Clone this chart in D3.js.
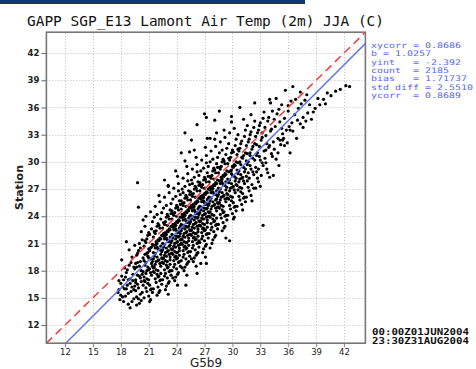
<!DOCTYPE html>
<html><head><meta charset="utf-8">
<script src="https://cdn.jsdelivr.net/npm/d3@7"></script>
<style>html,body{margin:0;padding:0;background:#fff;}svg{display:block;}</style>
</head><body>
<svg id="c" width="476" height="369"></svg>
<script>
const title = "GAPP SGP_E13 Lamont Air Temp (2m) JJA (C)";
const xLabel = "G5b9";
const yLabel = "Station";
const domainMin = 10, domainMax = 44.3;
const xTicks = [12,15,18,21,24,27,30,33,36,39,42];
const yTicks = [12,15,18,21,24,27,30,33,36,39,42];
const fitSlope = 1.0257, fitIntercept = -2.392;
const statsLines = ["xycorr = 0.8686","b = 1.0257","yint   = -2.392","count  = 2185","bias   = 1.71737","std diff = 2.5510","ycorr  = 0.8689"];
const dateLines = ["00:00Z01JUN2004","23:30Z31AUG2004"];
// [G5b9, Station] pairs (approximate)
const pairs = [
[17.7,15.6],[17.8,16.9],[17.9,14.8],[18.0,15.3],[18.1,17.4],[18.2,16.2],[18.3,14.6],[18.4,18.3],[17.8,15.9],[18.0,16.6],[18.2,15.1],[18.3,17.0],[18.4,16.0],[18.1,19.2],
[18.5,15.2],[18.6,17.8],[18.7,16.4],[18.8,14.3],[18.9,18.6],[19.0,17.1],[19.1,15.7],[19.2,19.5],[19.3,16.9],[19.4,14.9],[18.5,17.3],[18.6,16.0],[18.7,18.1],[18.8,15.5],[18.9,20.3],[19.0,16.6],[19.1,18.9],[19.2,14.6],[19.3,17.6],[19.4,15.9],[18.6,21.2],[18.8,17.0],[19.0,13.9],[19.2,16.2],[19.4,18.4],
[19.5,16.3],[19.6,18.8],[19.7,15.1],[19.8,17.5],[19.9,20.2],[20.0,14.4],[20.1,19.0],[20.2,16.8],[20.3,21.4],[20.4,17.9],[19.5,18.2],[19.6,15.8],[19.7,19.7],[19.8,16.5],[19.9,14.9],[20.0,18.5],[20.1,17.2],[20.2,22.3],[20.3,15.6],[20.4,19.4],[19.5,20.8],[19.6,17.0],[19.7,14.2],[19.8,18.9],[19.9,16.1],[20.0,21.0],[20.1,15.4],[20.2,18.0],[20.3,17.6],[20.4,23.6],[19.6,16.7],[19.8,19.9],[20.0,17.4],[20.2,14.7],[20.4,16.4],[19.7,18.4],[20.1,20.5],[19.9,25.0],
[20.5,17.3],[20.6,19.8],[20.7,16.1],[20.8,21.5],[20.9,18.4],[21.0,15.2],[21.1,20.2],[21.2,17.8],[21.3,22.6],[21.4,19.0],[20.5,20.7],[20.6,16.8],[20.7,18.9],[20.8,15.7],[20.9,21.9],[21.0,18.1],[21.1,16.4],[21.2,20.5],[21.3,17.5],[21.4,23.4],[20.5,15.0],[20.6,18.6],[20.7,21.1],[20.8,17.1],[20.9,19.6],[21.0,22.2],[21.1,14.6],[21.2,19.3],[21.3,16.0],[21.4,20.9],[20.5,19.1],[20.6,22.9],[20.7,17.7],[20.8,19.9],[20.9,16.6],[21.0,20.4],[21.1,18.2],[21.2,24.5],[21.3,18.8],[21.4,15.6],[20.6,21.3],[20.8,18.0],[21.0,17.0],[21.2,15.9],[21.4,18.5],[20.7,24.0],[20.9,20.0],[21.1,22.0],[21.3,20.6],[20.5,16.9],[21.0,19.4],[21.2,14.8],
[21.5,18.3],[21.6,20.8],[21.7,17.1],[21.8,22.4],[21.9,19.5],[22.0,16.2],[22.1,21.3],[22.2,18.8],[22.3,23.7],[22.4,20.1],[21.5,21.7],[21.6,17.8],[21.7,19.9],[21.8,16.7],[21.9,22.9],[22.0,19.1],[22.1,17.4],[22.2,21.6],[22.3,18.5],[22.4,24.4],[21.5,16.0],[21.6,19.6],[21.7,22.1],[21.8,18.1],[21.9,20.6],[22.0,23.2],[22.1,15.6],[22.2,20.3],[22.3,17.0],[22.4,21.9],[21.5,20.0],[21.6,23.9],[21.7,18.7],[21.8,20.9],[21.9,17.6],[22.0,21.4],[22.1,19.2],[22.2,25.6],[22.3,19.8],[22.4,16.5],[21.6,22.3],[21.8,19.0],[22.0,18.0],[22.2,16.9],[22.4,19.4],[21.7,25.1],[21.9,21.0],[22.1,23.0],[22.3,21.5],[21.5,17.9],[22.0,20.4],[22.2,15.8],[21.6,18.4],[21.8,21.2],[22.0,17.3],[22.2,22.7],[22.4,18.9],[21.7,20.5],[21.9,15.3],[22.1,26.3],[22.3,20.7],[21.5,19.3],[21.9,24.2],[22.3,17.7],
[22.5,19.3],[22.6,21.8],[22.7,18.1],[22.8,23.4],[22.9,20.5],[23.0,17.2],[23.1,22.3],[23.2,19.8],[23.3,24.7],[23.4,21.1],[22.5,22.7],[22.6,18.8],[22.7,20.9],[22.8,17.7],[22.9,23.9],[23.0,20.1],[23.1,18.4],[23.2,22.6],[23.3,19.5],[23.4,25.4],[22.5,17.0],[22.6,20.6],[22.7,23.1],[22.8,19.1],[22.9,21.6],[23.0,24.2],[23.1,16.6],[23.2,21.3],[23.3,18.0],[23.4,22.9],[22.5,21.0],[22.6,24.9],[22.7,19.7],[22.8,21.9],[22.9,18.6],[23.0,22.4],[23.1,20.2],[23.2,26.6],[23.3,20.8],[23.4,17.5],[22.6,23.3],[22.8,20.0],[23.0,19.0],[23.2,17.9],[23.4,20.4],[22.7,26.1],[22.9,22.0],[23.1,24.0],[23.3,22.5],[22.5,18.9],[23.0,21.4],[23.2,16.8],[22.6,19.4],[22.8,22.2],[23.0,18.3],[23.2,23.7],[23.4,19.9],[22.7,21.5],[22.9,16.3],[23.1,27.3],[23.3,21.7],[22.5,20.3],[22.9,25.2],[23.3,18.7],[22.6,22.1],[22.8,15.9],[23.0,23.0],[23.2,20.7],[23.4,24.3],[22.7,17.4],[23.1,21.2],[23.3,19.2],[22.9,19.6],[23.1,15.4],
[23.5,20.3],[23.6,22.8],[23.7,19.1],[23.8,24.4],[23.9,21.5],[24.0,18.2],[24.1,23.3],[24.2,20.8],[24.3,25.7],[24.4,22.1],[23.5,23.7],[23.6,19.8],[23.7,21.9],[23.8,18.7],[23.9,24.9],[24.0,21.1],[24.1,19.4],[24.2,23.6],[24.3,20.5],[24.4,26.4],[23.5,18.0],[23.6,21.6],[23.7,24.1],[23.8,20.1],[23.9,22.6],[24.0,25.2],[24.1,17.6],[24.2,22.3],[24.3,19.0],[24.4,23.9],[23.5,22.0],[23.6,25.9],[23.7,20.7],[23.8,22.9],[23.9,19.6],[24.0,23.4],[24.1,21.2],[24.2,27.6],[24.3,21.8],[24.4,18.5],[23.6,24.3],[23.8,21.0],[24.0,20.0],[24.2,18.9],[24.4,21.4],[23.7,27.1],[23.9,23.0],[24.1,25.0],[24.3,23.5],[23.5,19.9],[24.0,22.4],[24.2,17.8],[23.6,20.4],[23.8,23.2],[24.0,19.3],[24.2,24.7],[24.4,20.9],[23.7,22.5],[23.9,17.3],[24.1,28.4],[24.3,22.7],[23.5,21.3],[23.9,26.2],[24.3,19.7],[23.6,23.1],[23.8,16.9],[24.0,24.0],[24.2,21.7],[24.4,25.3],[23.7,18.4],[24.1,22.2],[24.3,20.2],[23.9,20.6],[24.1,16.4],[23.5,24.6],[23.8,19.5],[24.0,21.8],[24.2,26.8],[24.4,22.9],[23.6,17.2],[24.1,20.0],[23.9,29.0],
[24.5,21.4],[24.6,23.9],[24.7,20.2],[24.8,25.5],[24.9,22.6],[25.0,19.3],[25.1,24.4],[25.2,21.9],[25.3,26.8],[25.4,23.2],[24.5,24.8],[24.6,20.9],[24.7,23.0],[24.8,19.8],[24.9,26.0],[25.0,22.2],[25.1,20.5],[25.2,24.7],[25.3,21.6],[25.4,27.5],[24.5,19.1],[24.6,22.7],[24.7,25.2],[24.8,21.2],[24.9,23.7],[25.0,26.3],[25.1,18.7],[25.2,23.4],[25.3,20.1],[25.4,25.0],[24.5,23.1],[24.6,27.0],[24.7,21.8],[24.8,24.0],[24.9,20.7],[25.0,24.5],[25.1,22.3],[25.2,28.7],[25.3,22.9],[25.4,19.6],[24.6,25.4],[24.8,22.1],[25.0,21.1],[25.2,20.0],[25.4,22.5],[24.7,28.2],[24.9,24.1],[25.1,26.1],[25.3,24.6],[24.5,21.0],[25.0,23.5],[25.2,18.9],[24.6,21.5],[24.8,24.3],[25.0,20.4],[25.2,25.8],[25.4,22.0],[24.7,23.6],[24.9,18.4],[25.1,29.5],[25.3,23.8],[24.5,22.4],[24.9,27.3],[25.3,20.8],[24.6,24.2],[24.8,18.0],[25.0,25.1],[25.2,22.8],[25.4,26.4],[24.7,19.5],[25.1,23.3],[25.3,21.3],[24.9,21.7],[25.1,17.5],[24.5,25.7],[24.8,20.6],[25.0,22.9],[25.2,27.9],[25.4,24.0],[24.6,18.3],[25.1,21.1],[24.9,30.1],[25.3,19.0],[24.7,26.6],[25.0,16.4],[25.4,24.9],
[25.5,22.4],[25.6,24.9],[25.7,21.2],[25.8,26.5],[25.9,23.6],[26.0,20.3],[26.1,25.4],[26.2,22.9],[26.3,27.8],[26.4,24.2],[25.5,25.8],[25.6,21.9],[25.7,24.0],[25.8,20.8],[25.9,27.0],[26.0,23.2],[26.1,21.5],[26.2,25.7],[26.3,22.6],[26.4,28.5],[25.5,20.1],[25.6,23.7],[25.7,26.2],[25.8,22.2],[25.9,24.7],[26.0,27.3],[26.1,19.7],[26.2,24.4],[26.3,21.1],[26.4,26.0],[25.5,24.1],[25.6,28.0],[25.7,22.8],[25.8,25.0],[25.9,21.7],[26.0,25.5],[26.1,23.3],[26.2,29.7],[26.3,23.9],[26.4,20.6],[25.6,26.4],[25.8,23.1],[26.0,22.1],[26.2,21.0],[26.4,23.5],[25.7,29.2],[25.9,25.1],[26.1,27.1],[26.3,25.6],[25.5,22.0],[26.0,24.5],[26.2,19.9],[25.6,22.5],[25.8,25.3],[26.0,21.4],[26.2,26.8],[26.4,23.0],[25.7,24.6],[25.9,19.4],[26.1,30.5],[26.3,24.8],[25.5,23.4],[25.9,28.3],[26.3,21.8],[25.6,25.2],[25.8,19.0],[26.0,26.1],[26.2,23.8],[26.4,27.4],[25.7,20.5],[26.1,24.3],[26.3,22.3],[25.9,22.7],[26.1,18.5],[25.5,26.7],[25.8,21.6],[26.0,23.9],[26.2,28.9],[26.4,25.0],[25.6,19.3],[26.1,22.1],[25.9,31.3],[26.3,20.0],[25.7,27.6],[26.2,17.7],[26.4,21.3],
[26.5,23.4],[26.6,25.9],[26.7,22.2],[26.8,27.5],[26.9,24.6],[27.0,21.3],[27.1,26.4],[27.2,23.9],[27.3,28.8],[27.4,25.2],[26.5,26.8],[26.6,22.9],[26.7,25.0],[26.8,21.8],[26.9,28.0],[27.0,24.2],[27.1,22.5],[27.2,26.7],[27.3,23.6],[27.4,29.5],[26.5,21.1],[26.6,24.7],[26.7,27.2],[26.8,23.2],[26.9,25.7],[27.0,28.3],[27.1,20.7],[27.2,25.4],[27.3,22.1],[27.4,27.0],[26.5,25.1],[26.6,29.0],[26.7,23.8],[26.8,26.0],[26.9,22.7],[27.0,26.5],[27.1,24.3],[27.2,30.7],[27.3,24.9],[27.4,21.6],[26.6,27.4],[26.8,24.1],[27.0,23.1],[27.2,22.0],[27.4,24.5],[26.7,30.2],[26.9,26.1],[27.1,28.1],[27.3,26.6],[26.5,23.0],[27.0,25.5],[27.2,20.9],[26.6,23.5],[26.8,26.3],[27.0,22.4],[27.2,27.8],[27.4,24.0],[26.7,25.6],[26.9,20.4],[27.1,31.6],[27.3,25.8],[26.5,24.4],[26.9,29.3],[27.3,22.8],[26.6,26.2],[26.8,20.0],[27.0,27.1],[27.2,24.8],[27.4,28.4],[26.7,21.5],[27.1,25.3],[27.3,23.3],[26.9,23.7],[27.1,19.5],[26.5,27.7],[26.8,22.6],[27.0,24.9],[27.2,29.9],[27.4,26.0],[26.6,18.8],[27.2,18.8],[27.3,32.6],
[27.5,24.4],[27.6,26.9],[27.7,23.2],[27.8,28.5],[27.9,25.6],[28.0,22.3],[28.1,27.4],[28.2,24.9],[28.3,29.8],[28.4,26.2],[27.5,27.8],[27.6,23.9],[27.7,26.0],[27.8,22.8],[27.9,29.0],[28.0,25.2],[28.1,23.5],[28.2,27.7],[28.3,24.6],[28.4,30.5],[27.5,22.1],[27.6,25.7],[27.7,28.2],[27.8,24.2],[27.9,26.7],[28.0,29.3],[28.1,21.7],[28.2,26.4],[28.3,23.1],[28.4,28.0],[27.5,26.1],[27.6,30.0],[27.7,24.8],[27.8,27.0],[27.9,23.7],[28.0,27.5],[28.1,25.3],[28.2,31.7],[28.3,25.9],[28.4,22.6],[27.6,28.4],[27.8,25.1],[28.0,24.1],[28.2,23.0],[28.4,25.5],[27.7,31.2],[27.9,27.1],[28.1,29.1],[28.3,27.6],[27.5,24.0],[28.0,26.5],[28.2,21.9],[27.6,24.5],[27.8,27.3],[28.0,23.4],[28.2,28.8],[28.4,25.0],[27.7,26.6],[27.9,21.4],[28.1,32.5],[28.3,26.8],[27.5,25.4],[27.9,30.3],[28.3,23.8],[27.6,27.2],[27.8,21.0],[28.0,28.1],[28.2,25.8],[28.4,29.4],[27.7,22.5],[27.6,20.5],[28.1,34.6],[27.2,34.9],[28.3,33.2],
[28.5,25.4],[28.6,27.9],[28.7,24.2],[28.8,29.5],[28.9,26.6],[29.0,23.3],[29.1,28.4],[29.2,25.9],[29.3,30.8],[29.4,27.2],[28.5,28.8],[28.6,24.9],[28.7,27.0],[28.8,23.8],[28.9,30.0],[29.0,26.2],[29.1,24.5],[29.2,28.7],[29.3,25.6],[29.4,31.5],[28.5,23.1],[28.6,26.7],[28.7,29.2],[28.8,25.2],[28.9,27.7],[29.0,30.3],[29.1,22.7],[29.2,27.4],[29.3,24.1],[29.4,29.0],[28.5,27.1],[28.6,31.0],[28.7,25.8],[28.8,28.0],[28.9,24.7],[29.0,28.5],[29.1,26.3],[29.2,32.7],[29.3,26.9],[29.4,23.6],[28.6,29.4],[28.8,26.1],[29.0,25.1],[29.2,24.0],[29.4,26.5],[28.7,32.2],[28.9,28.1],[29.1,30.1],[29.3,28.6],[28.5,25.0],[29.0,27.5],[29.2,22.9],[28.6,25.5],[28.8,28.3],[29.0,24.4],[29.2,29.8],[29.4,26.0],[28.7,27.6],[28.9,22.4],[29.1,33.5],[29.3,27.8],[28.5,26.4],[28.9,31.3],[29.3,21.6],
[29.5,26.4],[29.6,28.9],[29.7,25.2],[29.8,30.5],[29.9,27.6],[30.0,24.3],[30.1,29.4],[30.2,26.9],[30.3,31.8],[30.4,28.2],[29.5,29.8],[29.6,25.9],[29.7,28.0],[29.8,24.8],[29.9,31.0],[30.0,27.2],[30.1,25.5],[30.2,29.7],[30.3,26.6],[30.4,32.5],[29.5,24.1],[29.6,27.7],[29.7,30.2],[29.8,26.2],[29.9,28.7],[30.0,31.3],[30.1,23.7],[30.2,28.4],[30.3,25.1],[30.4,30.0],[29.5,28.1],[29.6,32.0],[29.7,26.8],[29.8,29.0],[29.9,25.7],[30.0,29.5],[30.1,27.3],[30.2,33.7],[30.3,27.9],[30.4,24.6],[29.6,30.4],[29.8,27.1],[30.0,26.1],[30.2,25.0],[30.4,27.5],[29.7,33.2],[29.9,29.1],[30.1,31.1],[30.3,29.6],[29.5,26.0],[30.0,28.5],[29.7,21.3],[30.2,23.9],[29.9,34.4],
[30.5,27.4],[30.6,29.9],[30.7,26.2],[30.8,31.5],[30.9,28.6],[31.0,25.3],[31.1,30.4],[31.2,27.9],[31.3,32.8],[31.4,29.2],[30.5,30.8],[30.6,26.9],[30.7,29.0],[30.8,25.8],[30.9,32.0],[31.0,28.2],[31.1,26.5],[31.2,30.7],[31.3,27.6],[31.4,33.5],[30.5,25.1],[30.6,28.7],[30.7,31.2],[30.8,27.2],[30.9,29.7],[31.0,32.3],[31.1,24.7],[31.2,29.4],[31.3,26.1],[31.4,31.0],[30.5,29.1],[30.6,33.0],[30.7,27.8],[30.8,30.0],[30.9,26.7],[31.0,30.5],[31.1,28.3],[31.2,34.7],[31.3,28.9],[31.4,25.6],[30.6,31.4],[30.8,28.1],[31.0,27.1],[31.2,26.0],
[31.5,28.4],[31.6,30.9],[31.7,27.2],[31.8,32.5],[31.9,29.6],[32.0,26.3],[32.1,31.4],[32.2,28.9],[32.3,33.8],[32.4,30.2],[31.5,31.8],[31.6,27.9],[31.7,30.0],[31.8,26.8],[31.9,33.0],[32.0,29.2],[32.1,27.5],[32.2,31.7],[32.3,28.6],[32.4,34.5],[31.5,26.1],[31.6,29.7],[31.7,32.2],[31.8,28.2],[31.9,30.7],[32.0,33.3],[32.1,25.7],[32.2,30.4],[32.3,27.1],[32.4,32.0],[31.5,30.1],[31.6,34.0],[31.7,28.8],[31.9,31.0],[32.4,36.5],[32.0,35.2],
[32.5,29.4],[32.6,31.9],[32.7,28.2],[32.8,33.5],[32.9,30.6],[33.0,27.3],[33.1,32.4],[33.2,29.9],[33.3,34.8],[33.4,31.2],[32.5,32.8],[32.6,28.9],[32.7,31.0],[32.8,27.8],[32.9,34.0],[33.0,30.2],[33.1,28.5],[33.2,32.7],[33.3,29.6],[33.4,35.5],[32.5,27.1],[32.6,30.7],[32.7,33.2],[32.8,29.2],[32.9,31.7],[33.0,34.3],[33.3,23.0],[33.2,33.2],
[33.5,30.4],[33.6,32.9],[33.7,29.2],[33.8,34.5],[33.9,31.6],[34.0,28.3],[34.1,33.4],[34.2,30.9],[34.3,35.6],[34.4,32.2],[33.5,33.8],[33.6,29.9],[33.7,32.0],[33.8,28.8],[33.9,34.9],[34.0,31.8],[34.1,36.5],[34.2,33.6],[34.3,30.6],[34.4,28.5],[33.6,31.3],[34.0,36.9],
[34.5,31.4],[34.6,33.9],[34.7,30.3],[34.8,35.3],[34.9,32.6],[35.0,29.6],[35.1,34.4],[35.2,31.9],[35.3,36.3],[35.4,33.1],[34.5,34.7],[34.7,37.0],[34.9,31.0],[35.1,32.4],[35.3,33.7],[35.4,32.4],[35.0,35.8],
[35.5,32.6],[35.6,34.8],[35.7,37.9],[35.8,33.5],[35.9,32.1],[36.0,35.6],[36.1,33.9],[36.2,33.5],[36.3,36.7],[36.4,34.3],[35.6,31.8],[36.0,36.2],[36.2,31.0],
[36.5,33.4],[36.5,38.3],[36.7,35.2],[36.8,36.9],[36.9,32.6],[37.0,34.6],[37.1,35.9],[37.3,37.7],[37.3,34.2],[37.4,36.4],
[37.6,34.9],[37.6,33.8],[37.8,36.8],[38.1,35.4],[38.3,36.3],[38.0,37.4],[37.9,34.5],
[38.7,35.5],[38.9,35.9],[39.2,37.0],[39.4,36.3],[38.5,34.7],
[40.0,36.4],[40.2,37.6],[40.6,37.3],[39.8,36.9],
[41.1,37.8],[41.6,38.0],[42.2,38.4],[42.6,38.3],
[19.8,27.7],[22.7,28.0],[23.1,27.4],[24.5,31.0],[25.4,31.1],[24.9,33.2],[25.6,32.4],[27.6,32.6],[27.0,35.3],[28.6,35.6],[29.9,35.0],[30.8,36.0],[26.2,34.1]
];

const svg = d3.select("#c");
const x = d3.scaleLinear().domain([domainMin, domainMax]).range([46.4, 365.4]);
const y = d3.scaleLinear().domain([domainMin, domainMax]).range([343.2, 32.2]);

// top band
svg.append("rect").attr("x",0).attr("y",0).attr("width",305).attr("height",4).attr("fill","#0b3a6e");

// title
svg.append("text").attr("x",27).attr("y",25.5)
  .attr("font-family","DejaVu Sans Mono").attr("font-size",14.5).attr("fill","#111")
  .attr("textLength",357).attr("lengthAdjust","spacingAndGlyphs").text(title);

// grid
const grid = svg.append("g").attr("stroke","#bdbdbd").attr("stroke-width",1).attr("stroke-dasharray","1,2");
grid.selectAll(".gx").data(xTicks).enter().append("line")
  .attr("x1",d=>Math.round(x(d))+0.5).attr("x2",d=>Math.round(x(d))+0.5).attr("y1",y(domainMin)).attr("y2",y(domainMax));
grid.selectAll(".gy").data(yTicks).enter().append("line")
  .attr("y1",d=>Math.round(y(d))+0.5).attr("y2",d=>Math.round(y(d))+0.5).attr("x1",x(domainMin)).attr("x2",x(domainMax));

// points
svg.append("g").selectAll("circle").data(pairs).enter().append("circle")
  .attr("cx",d=>x(d[0])).attr("cy",d=>y(d[1])).attr("r",1.6).attr("fill","#000");

// lines
svg.append("clipPath").attr("id","pc").append("rect")
  .attr("x",x(domainMin)).attr("y",y(domainMax)).attr("width",x(domainMax)-x(domainMin)).attr("height",y(domainMin)-y(domainMax));
const lg = svg.append("g").attr("clip-path","url(#pc)");
lg.append("line").attr("x1",x(domainMin)).attr("y1",y(domainMin)).attr("x2",x(domainMax)).attr("y2",y(domainMax))
  .attr("stroke","#f03c3c").attr("stroke-width",1.5).attr("stroke-dasharray","8,5");
const fx0 = (domainMin - fitIntercept)/fitSlope;
lg.append("line").attr("x1",x(fx0)).attr("y1",y(domainMin)).attr("x2",x(domainMax)).attr("y2",y(fitSlope*domainMax+fitIntercept))
  .attr("stroke","#5b6ff5").attr("stroke-width",1.5);

// axes
const ax = svg.append("g").attr("transform",`translate(0,${y(domainMin)})`)
  .call(d3.axisBottom(x).tickValues(xTicks).tickSize(4).tickPadding(2).tickFormat(d3.format("d")));
ax.select(".domain").remove();
ax.selectAll("line").attr("stroke","#888");
ax.selectAll("text").attr("font-family","DejaVu Sans").attr("font-size",8.5).attr("fill","#222");

const ay = svg.append("g").attr("transform",`translate(${x(domainMin)},0)`)
  .call(d3.axisLeft(y).tickValues(yTicks).tickSize(5).tickPadding(2).tickFormat(d3.format("d")));
ay.select(".domain").remove();
ay.selectAll("line").attr("stroke","#666");
ay.selectAll("text").attr("font-family","DejaVu Sans").attr("font-weight","bold").attr("font-size",8.5).attr("fill","#222");

// frame
svg.append("rect").attr("x",x(domainMin)).attr("y",y(domainMax)).attr("width",x(domainMax)-x(domainMin)).attr("height",y(domainMin)-y(domainMax))
  .attr("fill","none").attr("stroke","#777").attr("stroke-width",1.6);

// axis labels
svg.append("text").attr("x",206).attr("y",367).attr("text-anchor","middle")
  .attr("font-family","DejaVu Sans").attr("font-size",12).attr("fill","#222").text(xLabel);
svg.append("text").attr("transform","translate(23,187.5) rotate(-90)").attr("text-anchor","middle")
  .attr("font-family","DejaVu Sans").attr("font-weight","bold").attr("font-size",11).attr("fill","#222").text(yLabel);

// stats
svg.append("g").selectAll("text").data(statsLines).enter().append("text")
  .attr("x",371).attr("y",(d,i)=>48+i*8.3)
  .attr("font-family","DejaVu Sans Mono").attr("font-size",7.6).attr("fill","#5a6af0")
  .attr("textLength",d=>d.length*6).attr("lengthAdjust","spacingAndGlyphs")
  .attr("xml:space","preserve").style("white-space","pre").text(d=>d);

// dates
svg.append("g").selectAll("text").data(dateLines).enter().append("text")
  .attr("x",372).attr("y",(d,i)=>335+i*8.5)
  .attr("font-family","DejaVu Sans Mono").attr("font-weight","bold").attr("font-size",8)
  .attr("fill","#111")
  .attr("textLength",97).attr("lengthAdjust","spacingAndGlyphs").text(d=>d);
</script>
</body></html>
